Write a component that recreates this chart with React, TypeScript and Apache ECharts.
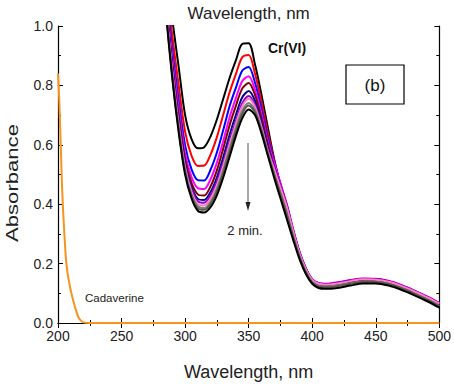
import React, { useEffect, useRef } from "react";
import * as echarts from "echarts";

// Wavelength grid (nm) for the Cr(VI) spectra
const wavelengths = [280, 285, 290, 295, 300, 305, 310, 315, 320, 325, 330, 335, 340, 345, 350, 355, 360, 365, 370, 375, 380, 385, 390, 395, 400, 405, 410, 420, 430, 440, 450, 460, 470, 480, 490, 500];

// Absorbance of each Cr(VI) spectrum (top → bottom at 350 nm)
const cr1 = [1.6, 1.2, 1.02, 0.86, 0.7, 0.62, 0.588, 0.592, 0.628, 0.685, 0.755, 0.825, 0.885, 0.94, 0.942, 0.87, 0.77, 0.66, 0.553, 0.46, 0.375, 0.298, 0.228, 0.175, 0.14, 0.127, 0.124, 0.128, 0.136, 0.142, 0.141, 0.134, 0.12, 0.102, 0.082, 0.06];
const cr2 = [1.558, 1.158, 0.964, 0.798, 0.644, 0.564, 0.529, 0.53, 0.567, 0.626, 0.701, 0.777, 0.839, 0.895, 0.902, 0.839, 0.747, 0.643, 0.549, 0.464, 0.385, 0.305, 0.233, 0.179, 0.143, 0.13, 0.127, 0.131, 0.139, 0.145, 0.144, 0.137, 0.123, 0.105, 0.085, 0.063];
const cr3 = [1.524, 1.124, 0.918, 0.748, 0.598, 0.518, 0.481, 0.48, 0.516, 0.574, 0.65, 0.73, 0.793, 0.85, 0.862, 0.809, 0.723, 0.626, 0.544, 0.469, 0.395, 0.312, 0.238, 0.183, 0.146, 0.133, 0.13, 0.135, 0.143, 0.148, 0.147, 0.14, 0.126, 0.108, 0.088, 0.066];
const cr4 = [1.504, 1.104, 0.892, 0.719, 0.572, 0.492, 0.454, 0.451, 0.484, 0.54, 0.613, 0.693, 0.758, 0.815, 0.831, 0.785, 0.705, 0.613, 0.54, 0.47, 0.4, 0.315, 0.24, 0.185, 0.148, 0.135, 0.132, 0.137, 0.145, 0.15, 0.149, 0.142, 0.128, 0.11, 0.09, 0.068];
const cr5 = [1.489, 1.089, 0.872, 0.697, 0.552, 0.472, 0.433, 0.429, 0.46, 0.514, 0.587, 0.666, 0.732, 0.79, 0.808, 0.768, 0.692, 0.603, 0.525, 0.452, 0.38, 0.301, 0.23, 0.177, 0.142, 0.128, 0.125, 0.129, 0.137, 0.143, 0.143, 0.136, 0.122, 0.104, 0.084, 0.062];
const cr6 = [1.479, 1.079, 0.858, 0.682, 0.538, 0.458, 0.418, 0.414, 0.441, 0.49, 0.558, 0.634, 0.701, 0.76, 0.781, 0.748, 0.676, 0.592, 0.525, 0.46, 0.393, 0.31, 0.236, 0.182, 0.146, 0.132, 0.129, 0.134, 0.142, 0.147, 0.147, 0.14, 0.126, 0.108, 0.088, 0.066];
const cr7 = [1.473, 1.073, 0.85, 0.673, 0.53, 0.45, 0.41, 0.405, 0.429, 0.475, 0.54, 0.613, 0.681, 0.74, 0.764, 0.734, 0.666, 0.584, 0.524, 0.462, 0.398, 0.313, 0.239, 0.184, 0.147, 0.134, 0.131, 0.136, 0.144, 0.149, 0.148, 0.141, 0.127, 0.109, 0.089, 0.067];
const cr8 = [1.467, 1.067, 0.842, 0.664, 0.522, 0.442, 0.401, 0.396, 0.419, 0.464, 0.529, 0.602, 0.671, 0.73, 0.755, 0.727, 0.661, 0.58, 0.518, 0.455, 0.39, 0.308, 0.235, 0.181, 0.145, 0.132, 0.129, 0.133, 0.141, 0.147, 0.146, 0.139, 0.125, 0.107, 0.087, 0.065];
const cr9 = [1.461, 1.061, 0.834, 0.655, 0.514, 0.434, 0.393, 0.387, 0.408, 0.452, 0.515, 0.587, 0.656, 0.715, 0.741, 0.717, 0.653, 0.575, 0.505, 0.438, 0.37, 0.294, 0.225, 0.173, 0.138, 0.125, 0.122, 0.126, 0.134, 0.14, 0.139, 0.132, 0.118, 0.1, 0.08, 0.058];
const cr10 = [1.456, 1.056, 0.828, 0.649, 0.508, 0.428, 0.386, 0.381, 0.401, 0.443, 0.505, 0.576, 0.645, 0.705, 0.732, 0.71, 0.648, 0.571, 0.5, 0.433, 0.365, 0.291, 0.223, 0.171, 0.137, 0.123, 0.12, 0.124, 0.132, 0.138, 0.138, 0.131, 0.117, 0.099, 0.079, 0.057];
const cr11 = [1.45, 1.05, 0.82, 0.64, 0.5, 0.42, 0.378, 0.372, 0.39, 0.43, 0.49, 0.56, 0.63, 0.69, 0.719, 0.7, 0.64, 0.565, 0.49, 0.42, 0.35, 0.28, 0.215, 0.165, 0.132, 0.118, 0.115, 0.118, 0.126, 0.133, 0.133, 0.126, 0.112, 0.094, 0.074, 0.052];

const crSeries = [cr1, cr2, cr3, cr4, cr5, cr6, cr7, cr8, cr9, cr10, cr11];
const crColors = ["#000000", "#ff0000", "#0000ff", "#ff00ff", "#800000", "#000090", "#9900cc", "#ff80c0", "#808080", "#5a5a48", "#000000"];

// Cadaverine spectrum
const cadWavelengths = [200, 201, 202, 203, 204, 205, 206, 207, 208, 210, 212, 214, 216, 218, 220, 225, 250, 300, 350, 400, 450, 500];
const cadAbsorbance = [0.84, 0.75, 0.62, 0.48, 0.38, 0.3, 0.23, 0.185, 0.155, 0.11, 0.075, 0.045, 0.02, 0.008, 0.002, 0, 0, 0, 0, 0, 0, 0];

// Axes
const xMin = 200;
const xMax = 500;
const xStep = 50;
const yMin = 0;
const yMax = 1.0;
const yStep = 0.2;

const FONT = "'Liberation Sans', Arial, sans-serif";

export default function App() {
  const ref = useRef<HTMLDivElement>(null);

  useEffect(() => {
    if (!ref.current) return;
    const chart = echarts.init(ref.current, null, { renderer: "svg" });

    const tick = { inside: true, length: 5, lineStyle: { color: "#000", width: 1 } };
    const minor = { show: true, splitNumber: 2, length: 3, lineStyle: { color: "#000", width: 1 } };
    const axisLine = { show: true, lineStyle: { color: "#000", width: 1.2 } };

    const series: any[] = crSeries.map((arr, i) => ({
      type: "line",
      name: "Cr(VI) " + (i + 1),
      data: wavelengths.map((w, j) => [w, arr[j]]),
      showSymbol: false,
      smooth: 0.3,
      clip: true,
      lineStyle: { color: crColors[i], width: 2 },
      itemStyle: { color: crColors[i] },
      z: 2,
    }));
    series.push({
      type: "line",
      name: "Cadaverine",
      data: cadWavelengths.map((w, j) => [w, cadAbsorbance[j]]),
      showSymbol: false,
      smooth: 0.2,
      clip: true,
      lineStyle: { color: "#f7931e", width: 2 },
      itemStyle: { color: "#f7931e" },
      z: 3,
    });

    chart.setOption({
      animation: false,
      backgroundColor: "#ffffff",
      grid: { left: 58, right: 13, top: 23, bottom: 61 },
      xAxis: [
        {
          type: "value",
          position: "bottom",
          min: xMin,
          max: xMax,
          interval: xStep,
          axisLine,
          axisTick: tick,
          minorTick: minor,
          splitLine: { show: false },
          axisLabel: { margin: 6, fontSize: 14, color: "#222", fontFamily: FONT },
          name: "Wavelength, nm",
          nameLocation: "middle",
          nameGap: 40,
          nameTextStyle: { fontSize: 18, color: "#222", fontFamily: FONT },
        },
        {
          type: "value",
          position: "top",
          min: xMin,
          max: xMax,
          interval: xStep,
          axisLine,
          axisTick: tick,
          minorTick: minor,
          splitLine: { show: false },
          axisLabel: { show: false },
          name: "Wavelength, nm",
          nameLocation: "middle",
          nameGap: 4,
          nameTextStyle: { fontSize: 17, color: "#222", fontFamily: FONT },
        },
      ],
      yAxis: [
        {
          type: "value",
          position: "left",
          min: yMin,
          max: yMax,
          interval: yStep,
          axisLine,
          axisTick: tick,
          minorTick: minor,
          splitLine: { show: false },
          axisLabel: {
            margin: 5,
            fontSize: 14,
            color: "#222",
            fontFamily: FONT,
            formatter: (v: number) => v.toFixed(1),
          },
        },
        {
          type: "value",
          position: "right",
          min: yMin,
          max: yMax,
          interval: yStep,
          axisLine,
          axisTick: tick,
          minorTick: minor,
          splitLine: { show: false },
          axisLabel: { show: false },
        },
      ],
      series,
      graphic: [
        {
          type: "text",
          x: 12,
          y: 183,
          rotation: Math.PI / 2,
          scaleX: 1.3,
          style: {
            text: "Absorbance",
            font: `17px ${FONT}`,
            fill: "#222",
            textAlign: "center",
            textVerticalAlign: "middle",
          },
        },
        {
          type: "text",
          x: 268,
          y: 48,
          style: {
            text: "Cr(VI)",
            font: `bold 14px ${FONT}`,
            fill: "#111",
            textAlign: "left",
            textVerticalAlign: "middle",
          },
        },
        {
          type: "rect",
          shape: { x: 346, y: 65, width: 58, height: 39 },
          style: { fill: "#fff", stroke: "#000", lineWidth: 1.2 },
        },
        {
          type: "text",
          x: 375,
          y: 85,
          style: {
            text: "(b)",
            font: `17px ${FONT}`,
            fill: "#111",
            textAlign: "center",
            textVerticalAlign: "middle",
          },
        },
        {
          type: "line",
          shape: { x1: 248, y1: 143, x2: 248, y2: 203 },
          style: { stroke: "#555", lineWidth: 1 },
        },
        {
          type: "polygon",
          shape: { points: [[245.5, 202], [250.5, 202], [248, 211]] },
          style: { fill: "#222" },
        },
        {
          type: "text",
          x: 245,
          y: 230,
          style: {
            text: "2 min.",
            font: `13px ${FONT}`,
            fill: "#222",
            textAlign: "center",
            textVerticalAlign: "middle",
          },
        },
        {
          type: "text",
          x: 85,
          y: 298,
          style: {
            text: "Cadaverine",
            font: `11.5px ${FONT}`,
            fill: "#222",
            textAlign: "left",
            textVerticalAlign: "middle",
          },
        },
      ],
    });

    return () => chart.dispose();
  }, []);

  return (
    <div
      ref={ref}
      style={{ position: "fixed", left: 0, top: 0, width: 454, height: 386, background: "#fff" }}
    />
  );
}
